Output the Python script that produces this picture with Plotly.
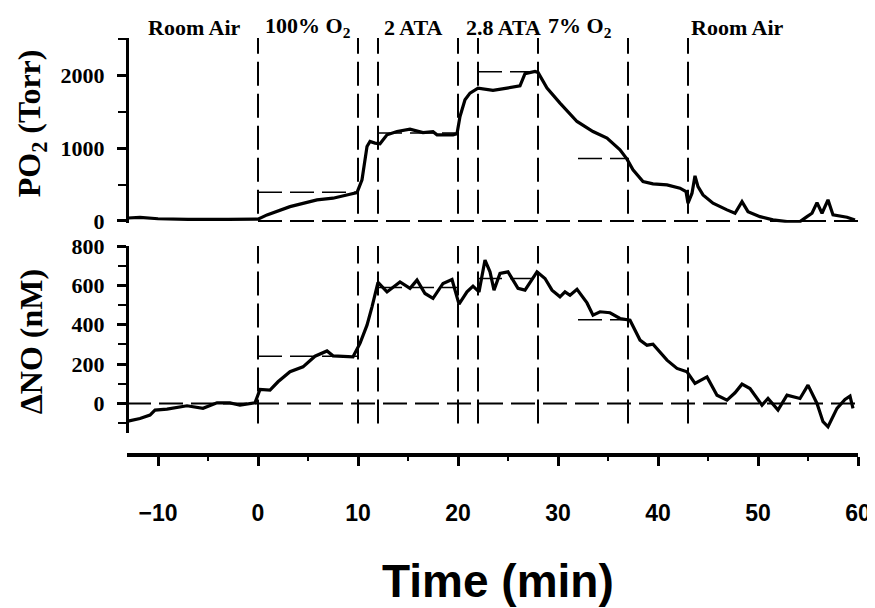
import plotly.graph_objects as go

# ---------------- data ----------------
time_po2 = [-13.0, -11.8, -10.0, -7.0, -3.0, 0.0, 0.9, 3.2, 5.9, 7.5, 9.2, 9.9, 10.4, 10.9, 11.2, 11.7,
            12.2, 12.9, 13.9, 15.2, 16.5, 17.5, 17.9, 19.5, 19.9, 20.2, 20.7, 21.2, 22.0, 23.5, 24.9,
            26.2, 26.7, 27.7, 28.0, 28.9, 30.2, 31.9, 33.5, 34.9, 36.2, 36.9, 37.5, 38.5, 39.5, 40.9,
            42.2, 42.8, 43.0, 43.4, 43.7, 44.0, 44.5, 45.5, 46.9, 47.7, 48.4, 49.0, 50.2, 51.5, 52.9,
            54.2, 54.9, 55.4, 55.9, 56.4, 57.0, 57.5, 58.9, 59.7]
po2 = [40, 50, 30, 20, 20, 25, 83, 197, 290, 313, 368, 390, 566, 1025, 1094, 1072,
       1062, 1186, 1232, 1265, 1218, 1230, 1186, 1186, 1200, 1439, 1669, 1761, 1830, 1798, 1830,
       1862, 2028, 2060, 2046, 1830, 1623, 1370, 1232, 1140, 980, 851, 703, 542, 510, 497,
       451, 405, 244, 382, 621, 473, 359, 244, 152, 106, 266, 128, 59, 14, -10,
       -10, 59, 106, 252, 106, 290, 83, 51, 14]

time_no = [-13.0, -11.8, -10.8, -10.3, -9.1, -7.1, -5.5, -4.1, -2.8, -1.8, -0.3, 0.2, 1.2, 2.0, 3.2,
           4.5, 5.7, 6.9, 7.5, 9.5, 10.2, 10.9, 11.4, 12.0, 12.9, 14.2, 15.2, 15.9, 16.7, 17.5,
           18.5, 19.4, 20.1, 20.9, 21.5, 22.1, 22.7, 23.2, 23.6, 24.2, 25.0, 26.0, 26.7, 27.4,
           27.9, 28.7, 29.4, 30.2, 30.7, 31.2, 31.9, 32.9, 33.5, 34.2, 35.2, 36.2, 37.2, 38.2,
           38.9, 39.5, 40.2, 40.9, 41.9, 42.9, 43.7, 44.9, 45.9, 46.9, 47.7, 48.4, 49.2, 50.4,
           51.0, 52.0, 52.9, 54.2, 55.0, 55.9, 56.5, 57.0, 57.9, 58.7, 59.2, 59.5]
no = [-90, -77, -59, -34, -29, -12, -25, 3, 3, -9, 3, 71, 68, 110, 161,
      186, 240, 267, 242, 237, 305, 398, 491, 615, 567, 618, 585, 627, 559, 534,
      610, 630, 505, 567, 596, 567, 729, 669, 576, 661, 669, 585, 576, 627,
      669, 635, 576, 542, 567, 550, 580, 511, 449, 466, 461, 432, 423, 322,
      296, 301, 262, 220, 178, 161, 102, 135, 42, 17, 54, 98, 76, -9,
      25, -34, 42, 25, 93, 0, -93, -119, -25, 20, 37, -25]

dividers = [0, 10, 12, 20, 22, 28, 37, 43]

stage_names = ["Room Air", "100% O<sub>2</sub>", "2 ATA", "2.8 ATA", "7% O<sub>2</sub>", "Room Air"]
stage_x = [-6.4, 4.95, 15.5, 24.5, 32.2, 47.9]

# reference (mean) levels: start, end, value
po2_levels_start = [0, 12, 22, 32]
po2_levels_end = [10, 20, 28, 37]
po2_levels = [395, 1210, 2055, 860]
no_levels_start = [0, 12, 22, 32]
no_levels_end = [10, 20, 28, 37]
no_levels = [240, 590, 635, 425]

x_ticks = [-10, 0, 10, 20, 30, 40, 50, 60]
po2_ticks = [0, 1000, 2000]
no_ticks = [0, 200, 400, 600, 800]

# ---------------- figure ----------------
fig = go.Figure()
fig.add_trace(go.Scatter(x=time_po2, y=po2, mode="lines", line=dict(color="black", width=3.2),
                         xaxis="x", yaxis="y", showlegend=False, hoverinfo="skip"))
fig.add_trace(go.Scatter(x=time_no, y=no, mode="lines", line=dict(color="black", width=3.2),
                         xaxis="x2", yaxis="y2", showlegend=False, hoverinfo="skip"))

DASH = "24px,8px"
shapes = []
for d in dividers:
    shapes.append(dict(type="line", xref="x", yref="y", x0=d, x1=d, y0=100, y1=2520,
                       line=dict(color="black", width=2, dash=DASH), layer="below"))
    shapes.append(dict(type="line", xref="x2", yref="y2", x0=d, x1=d, y0=-102, y1=800,
                       line=dict(color="black", width=2, dash=DASH), layer="below"))
# zero lines
shapes.append(dict(type="line", xref="x", yref="y", x0=0, x1=60, y0=0, y1=0,
                   line=dict(color="black", width=2, dash=DASH), layer="below"))
shapes.append(dict(type="line", xref="x2", yref="y2", x0=-13.1, x1=60, y0=0, y1=0,
                   line=dict(color="black", width=2, dash=DASH), layer="below"))
for a, b, v in zip(po2_levels_start, po2_levels_end, po2_levels):
    shapes.append(dict(type="line", xref="x", yref="y", x0=a, x1=b, y0=v, y1=v,
                       line=dict(color="black", width=1.5, dash=DASH), layer="below"))
for a, b, v in zip(no_levels_start, no_levels_end, no_levels):
    shapes.append(dict(type="line", xref="x2", yref="y2", x0=a, x1=b, y0=v, y1=v,
                       line=dict(color="black", width=1.5, dash=DASH), layer="below"))

annotations = []
for name, xv in zip(stage_names, stage_x):
    annotations.append(dict(text=name, x=xv, xref="x", y=1.026, yref="paper", showarrow=False,
                            xanchor="center", yanchor="middle",
                            font=dict(family="Liberation Serif", size=22, color="black", weight="bold")))
annotations.append(dict(text="PO<sub>2</sub> (Torr)", x=-0.131, xref="paper", y=0.796, yref="paper",
                        textangle=-90, showarrow=False, xanchor="center", yanchor="middle",
                        font=dict(family="Liberation Serif", size=32, color="black", weight="bold")))
annotations.append(dict(text="ΔNO (nM)", x=-0.131, xref="paper", y=0.271, yref="paper",
                        textangle=-90, showarrow=False, xanchor="center", yanchor="middle",
                        font=dict(family="Liberation Serif", size=32, color="black", weight="bold")))
annotations.append(dict(text="Time (min)", x=0.508, xref="paper", y=-0.302, yref="paper",
                        showarrow=False, xanchor="center", yanchor="middle",
                        font=dict(family="Liberation Sans", size=46, color="black", weight="bold")))

yfont = dict(family="Liberation Serif", size=22, color="black", weight="bold")

fig.update_layout(
    width=875, height=608,
    margin=dict(l=119, r=25, t=30, b=161),
    paper_bgcolor="white", plot_bgcolor="white",
    showlegend=False,
    shapes=shapes,
    annotations=annotations,
    xaxis=dict(domain=[0, 1], range=[-13.1, 60], anchor="y", visible=False),
    xaxis2=dict(domain=[0, 1], range=[-13.1, 60], anchor="free", position=0, matches="x",
                showline=True, linecolor="black", linewidth=4, ticks="outside", ticklen=9,
                tickwidth=3, tickcolor="black", tickvals=x_ticks, showgrid=False, zeroline=False,
                ticklabelstandoff=27,
                tickfont=dict(family="Liberation Sans", size=23, color="black", weight="bold"),
                minor=dict(dtick=5, tick0=0, ticks="outside", ticklen=4, tickwidth=2, tickcolor="black")),
    yaxis=dict(domain=[0.557, 1.0], range=[-25, 2520], anchor="free", position=0,
               showline=True, linecolor="black", linewidth=3, ticks="outside", ticklen=9,
               tickwidth=3, tickcolor="black", tickvals=po2_ticks, showgrid=False, zeroline=False,
               ticklabelstandoff=8, tickfont=yfont,
               minor=dict(dtick=500, tick0=0, ticks="outside", ticklen=8, tickwidth=2, tickcolor="black")),
    yaxis2=dict(domain=[0.052, 0.501], range=[-152, 800], anchor="free", position=0,
                showline=True, linecolor="black", linewidth=3, ticks="outside", ticklen=9,
                tickwidth=3, tickcolor="black", tickvals=no_ticks, showgrid=False, zeroline=False,
                ticklabelstandoff=8, tickfont=yfont,
                minor=dict(dtick=100, tick0=0, ticks="outside", ticklen=8, tickwidth=2, tickcolor="black")),
)

fig.write_html("out.html")
